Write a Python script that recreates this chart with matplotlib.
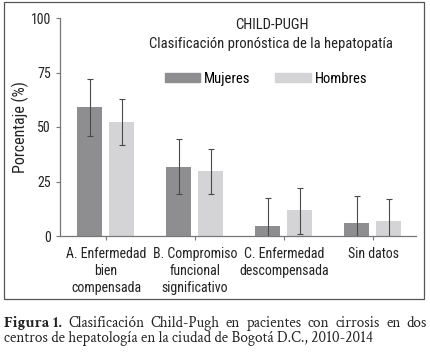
import matplotlib
matplotlib.use('Agg')
import matplotlib.pyplot as plt
import numpy as np
from matplotlib.patches import Rectangle, Patch

plt.rcParams['font.family'] = ['Roboto Condensed', 'Archivo Narrow', 'Liberation Sans', 'DejaVu Sans']

categorias = ['A. Enfermedad\nbien\ncompensada', 'B. Compromiso\nfuncional\nsignificativo',
              'C. Enfermedad\ndescompensada', 'Sin datos']
mujeres = [59, 31.5, 4.6, 5.8]
mujeres_lo = [46, 19.4, 0, 0]
mujeres_hi = [72, 44.3, 17.6, 18.2]
hombres = [52.3, 29.7, 11.8, 6.9]
hombres_lo = [41.6, 19.4, 1.1, 0]
hombres_hi = [62.7, 40, 22.2, 17.1]

fig = plt.figure(figsize=(4.3, 3.53), dpi=100)
fig.patches.append(Rectangle((4/430, 1-299/353), 420/430, 297/353, transform=fig.transFigure,
                             fill=False, edgecolor='#555555', linewidth=0.9))

ax = fig.add_axes([60/430, 1-236/353, 356/430, 218/353])
x = np.arange(len(categorias))
w = 0.28
col_m = '#8e8e91'
col_h = '#d4d4d6'
ecol = '#4a4a4a'

err_m = [np.array(mujeres) - np.array(mujeres_lo), np.array(mujeres_hi) - np.array(mujeres)]
err_h = [np.array(hombres) - np.array(hombres_lo), np.array(hombres_hi) - np.array(hombres)]
ax.bar(x - 0.185, mujeres, w, color=col_m, label='Mujeres', yerr=err_m,
       error_kw=dict(ecolor=ecol, elinewidth=0.8, capsize=2.5, capthick=0.8))
ax.bar(x + 0.175, hombres, w, color=col_h, label='Hombres', yerr=err_h,
       error_kw=dict(ecolor=ecol, elinewidth=0.8, capsize=2.5, capthick=0.8))

ax.set_xlim(-0.517, 3.483)
ax.set_ylim(0, 100)
ax.set_yticks([0, 25, 50, 75, 100])
ax.set_xticks(x)
ax.set_xticklabels(categorias, linespacing=1.25)
for s in ['top', 'right']:
    ax.spines[s].set_visible(False)
for s in ['left', 'bottom']:
    ax.spines[s].set_color('#777777')
    ax.spines[s].set_linewidth(0.9)
ax.tick_params(colors='#777777', length=3, width=0.8, labelsize=10, labelcolor='#222222')
ax.tick_params(axis='x', pad=5)
fig.text(20/430, 1-127/353, 'Porcentaje (%)', rotation=90, ha='center', va='center',
         fontsize=11.5, color='#222222')

fig.text(272/430, 1-25/353, 'CHILD-PUGH', ha='center', va='center', fontsize=10.5, color='#222222')
fig.text(271/430, 1-44/353, 'Clasificación pronóstica de la hepatopatía', ha='center', va='center',
         fontsize=10.5, color='#222222')
handles = [Patch(color=col_m), Patch(color=col_h)]
fig.legend(handles, ['Mujeres', 'Hombres'], loc='center', bbox_to_anchor=(266/430, 1-79/353),
           ncol=2, frameon=False, fontsize=10.5, handlelength=2.45, handleheight=0.6,
           columnspacing=1.7, handletextpad=0.25)

# caption, first line justified
cap1 = ['Clasificación', 'Child-Pugh', 'en', 'pacientes', 'con', 'cirrosis', 'en', 'dos']
serif = ['Crimson Text', 'Crimson Pro', 'EB Garamond', 'Liberation Serif']
fig.canvas.draw()
r = fig.canvas.get_renderer()
items = [fig.text(0, 0, 'Figura 1.', fontsize=11.5, fontweight='bold', family=serif, color='#222222')]
for wd in cap1:
    items.append(fig.text(0, 0, wd, fontsize=11, family=serif, color='#222222'))
widths = [t.get_window_extent(r).width for t in items]
left, right = 4, 427
gap = (right - left - sum(widths)) / (len(items) - 1)
xpos = left
for t, wd in zip(items, widths):
    t.set_position((xpos/430, 1-327/353))
    xpos += wd + gap
fig.text(4/430, 1-342/353, 'centros de hepatología en la ciudad de Bogotá D.C., 2010-2014',
         fontsize=11, family=serif, color='#222222')

fig.savefig('out.png', dpi=100)
